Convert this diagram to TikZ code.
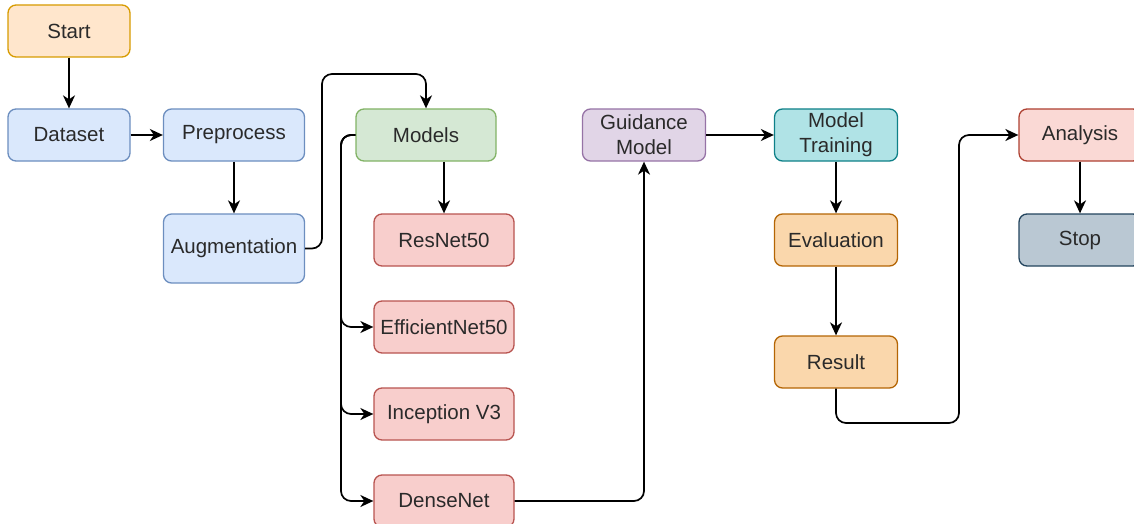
\documentclass[tikz,border=0pt]{standalone}
\usepackage{fontspec}
\setmainfont{Liberation Sans}
\usetikzlibrary{arrows.meta}
\definecolor{startF}{HTML}{FFE6CC}\definecolor{startD}{HTML}{D79B00}
\definecolor{blueF}{HTML}{DAE8FC}\definecolor{blueD}{HTML}{6C8EBF}
\definecolor{greenF}{HTML}{D5E8D4}\definecolor{greenD}{HTML}{82B366}
\definecolor{redF}{HTML}{F8CECC}\definecolor{redD}{HTML}{B85450}
\definecolor{purpF}{HTML}{E1D5E7}\definecolor{purpD}{HTML}{9673A6}
\definecolor{tealF}{HTML}{B0E3E6}\definecolor{tealD}{HTML}{0E8088}
\definecolor{orF}{HTML}{FAD7AC}\definecolor{orD}{HTML}{B46504}
\definecolor{anF}{HTML}{FAD9D5}\definecolor{anD}{HTML}{AE4132}
\definecolor{stF}{HTML}{BAC8D3}\definecolor{stD}{HTML}{23445D}
\definecolor{txt}{HTML}{2A2A2A}
\tikzset{
  box/.style={draw, rounded corners=8pt, line width=1.3pt, inner sep=0pt,
    minimum height=52pt, align=center, text=txt,
    font=\fontsize{20.5}{25}\selectfont},
  arr/.style={draw=black, line width=1.7pt, rounded corners=10pt,
    -{Stealth[length=13pt,width=12pt,inset=4pt]}}
}
\begin{document}
\begin{tikzpicture}[x=1pt,y=-1pt]
\useasboundingbox (0,0) rectangle (1134,524);
\node[box, fill=startF, draw=startD, minimum width=122pt] (start) at (69,31) {Start};
\node[box, fill=blueF, draw=blueD, minimum width=122pt] (data) at (69,135) {Dataset};
\node[box, fill=blueF, draw=blueD, minimum width=141pt] (pre) at (234,135) {Preprocess};
\node[box, fill=blueF, draw=blueD, minimum width=141pt, minimum height=69pt] (aug) at (234,248.5) {Augmentation};
\node[box, fill=greenF, draw=greenD, minimum width=140pt] (models) at (426,135) {Models};
\node[box, fill=redF, draw=redD, minimum width=140pt] (res) at (444,240) {ResNet50};
\node[box, fill=redF, draw=redD, minimum width=140pt] (eff) at (444,327) {EfficientNet50};
\node[box, fill=redF, draw=redD, minimum width=140pt] (inc) at (444,414) {Inception V3};
\node[box, fill=redF, draw=redD, minimum width=140pt] (dense) at (444,501) {DenseNet};
\node[box, fill=purpF, draw=purpD, minimum width=123pt] (guide) at (644,135) {Guidance\\Model};
\node[box, fill=tealF, draw=tealD, minimum width=123pt] (train) at (836,135) {Model\\Training};
\node[box, fill=orF, draw=orD, minimum width=123pt] (eval) at (836,240) {Evaluation};
\node[box, fill=orF, draw=orD, minimum width=123pt] (result) at (836,362) {Result};
\node[box, fill=anF, draw=anD, minimum width=122pt] (anal) at (1080,135) {Analysis};
\node[box, fill=stF, draw=stD, minimum width=122pt] (stop) at (1080,240) {Stop};
\coordinate (c1) at (322,74);
\coordinate (mb) at (341,135);
\coordinate (r1) at (959,423);
\draw[arr] (start) -- (data);
\draw[arr] (data) -- (pre);
\draw[arr] (pre) -- (aug);
\draw[arr] (aug.east) -| (c1) -| (models.north);
\draw[arr] (res.north |- models.south) -- (res.north);
\draw[arr] (models.west) -- (mb) |- (eff.west);
\draw[arr] (models.west) -- (mb) |- (inc.west);
\draw[arr] (models.west) -- (mb) |- (dense.west);
\draw[arr] (dense.east) -| (guide.south);
\draw[arr] (guide) -- (train);
\draw[arr] (train) -- (eval);
\draw[arr] (eval) -- (result);
\draw[arr] (result.south) |- (r1) |- (anal.west);
\draw[arr] (anal) -- (stop);
\end{tikzpicture}
\end{document}
